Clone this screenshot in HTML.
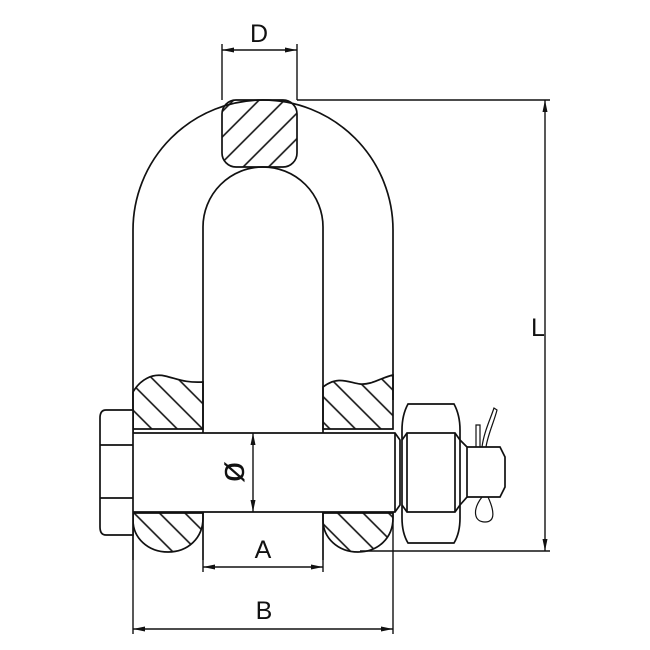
<!DOCTYPE html>
<html><head><style>body{margin:0;background:#fff}svg{display:block}</style></head><body>
<svg width="650" height="650" viewBox="0 0 650 650" xmlns="http://www.w3.org/2000/svg" font-family="Liberation Sans, DejaVu Sans, sans-serif">
<defs>
<pattern id="h1" patternUnits="userSpaceOnUse" width="18" height="18" patternTransform="rotate(45)"><line x1="2" y1="0" x2="2" y2="18" stroke="#111" stroke-width="1.6"/></pattern>
<pattern id="h2" patternUnits="userSpaceOnUse" width="18" height="18" patternTransform="rotate(-45)"><line x1="2" y1="0" x2="2" y2="18" stroke="#111" stroke-width="1.6"/></pattern>
<marker id="ar" markerWidth="12" markerHeight="8" refX="12" refY="4" orient="auto-start-reverse" markerUnits="userSpaceOnUse"><path d="M0,1.5 L12,4 L0,6.5z" fill="#111"/></marker>
</defs>
<g fill="none" stroke="#111" stroke-width="1.7">
<path d="M133,560 L133,230 A130,130 0 0 1 393,230 L393,400"/>
<path d="M203,560 L203,227 A60,60 0 0 1 323,227 L323,560"/>
<rect x="222" y="100" width="75" height="67" rx="14" fill="url(#h1)"/>
<path d="M133,392 C140,380 152,373 165,376 C178,379 185,383 203,382 L203,429 L133,429 Z" fill="url(#h2)"/>
<path d="M133,513 L203,513 L203,518 C203,538 188,552 168,552 C148,552 133,538 133,520 Z" fill="url(#h2)"/>
<path d="M323,387 C338,375 350,383 360,384 C372,385 380,378 393,375 L393,429 L323,429 Z" fill="url(#h2)"/>
<path d="M323,513 L393,513 L393,518 C393,538 378,552 358,552 C338,552 323,538 323,520 Z" fill="url(#h2)"/>
<path d="M133,433 L395,433 L400,440 L400,505 L395,512 L133,512" fill="#fff"/>
<line x1="395" y1="433" x2="395" y2="512"/>
<path d="M133,410 L106,410 Q100,410 100,418 L100,527 Q100,535 106,535 L133,535 Z" fill="#fff"/>
<line x1="100" y1="445" x2="133" y2="445"/><line x1="100" y1="498" x2="133" y2="498"/>
<path d="M408,404 L454,404 Q460,415 460,430 L460,518 Q460,533 454,543 L408,543 Q402,533 402,518 L402,430 Q402,415 408,404 Z" fill="#fff"/>
<path d="M402,440 L407,433 L455,433 L460,440"/>
<path d="M402,505 L407,512 L455,512 L460,505"/>
<line x1="407" y1="433" x2="407" y2="512"/><line x1="455" y1="433" x2="455" y2="512"/>
<path d="M460,440 L467,447 L467,497 L460,505"/>
<path d="M467,447 L500,447 L505,457 L505,487 L500,497 L467,497"/>
<path d="M476,447 L476,425 L480,425 L480,447" stroke-width="1.2"/>
<path d="M482,447 C484,432 490,420 494,408 L497,410 C494,422 488,434 486,447" stroke-width="1.2"/>
<path d="M482,497 C472,510 474,522 485,522 C496,522 494,510 488,497" stroke-width="1.2"/>
</g>
<g stroke="#111" stroke-width="1.4" fill="none">
<line x1="222" y1="44" x2="222" y2="100"/><line x1="297" y1="44" x2="297" y2="100"/>
<line x1="222" y1="50" x2="297" y2="50" marker-start="url(#ar)" marker-end="url(#ar)"/>
<line x1="297" y1="100" x2="550" y2="100"/><line x1="360" y1="551" x2="550" y2="551"/>
<line x1="545" y1="100" x2="545" y2="551" marker-start="url(#ar)" marker-end="url(#ar)"/>
<line x1="253" y1="433" x2="253" y2="512" marker-start="url(#ar)" marker-end="url(#ar)"/>
<line x1="203" y1="560" x2="203" y2="572"/><line x1="323" y1="560" x2="323" y2="572"/>
<line x1="203" y1="567" x2="323" y2="567" marker-start="url(#ar)" marker-end="url(#ar)"/>
<line x1="133" y1="560" x2="133" y2="634"/><line x1="393" y1="512" x2="393" y2="634"/>
<line x1="133" y1="629" x2="393" y2="629" marker-start="url(#ar)" marker-end="url(#ar)"/>
</g>
<g fill="#111" font-size="25" text-anchor="middle">
<text x="259" y="42">D</text>
<text x="263" y="558">A</text>
<text x="264" y="619">B</text>
<text x="538" y="336">L</text>
<text x="232" y="484" transform="rotate(-90 232 472)" font-size="36">ø</text>
</g>
</svg>
</body></html>
